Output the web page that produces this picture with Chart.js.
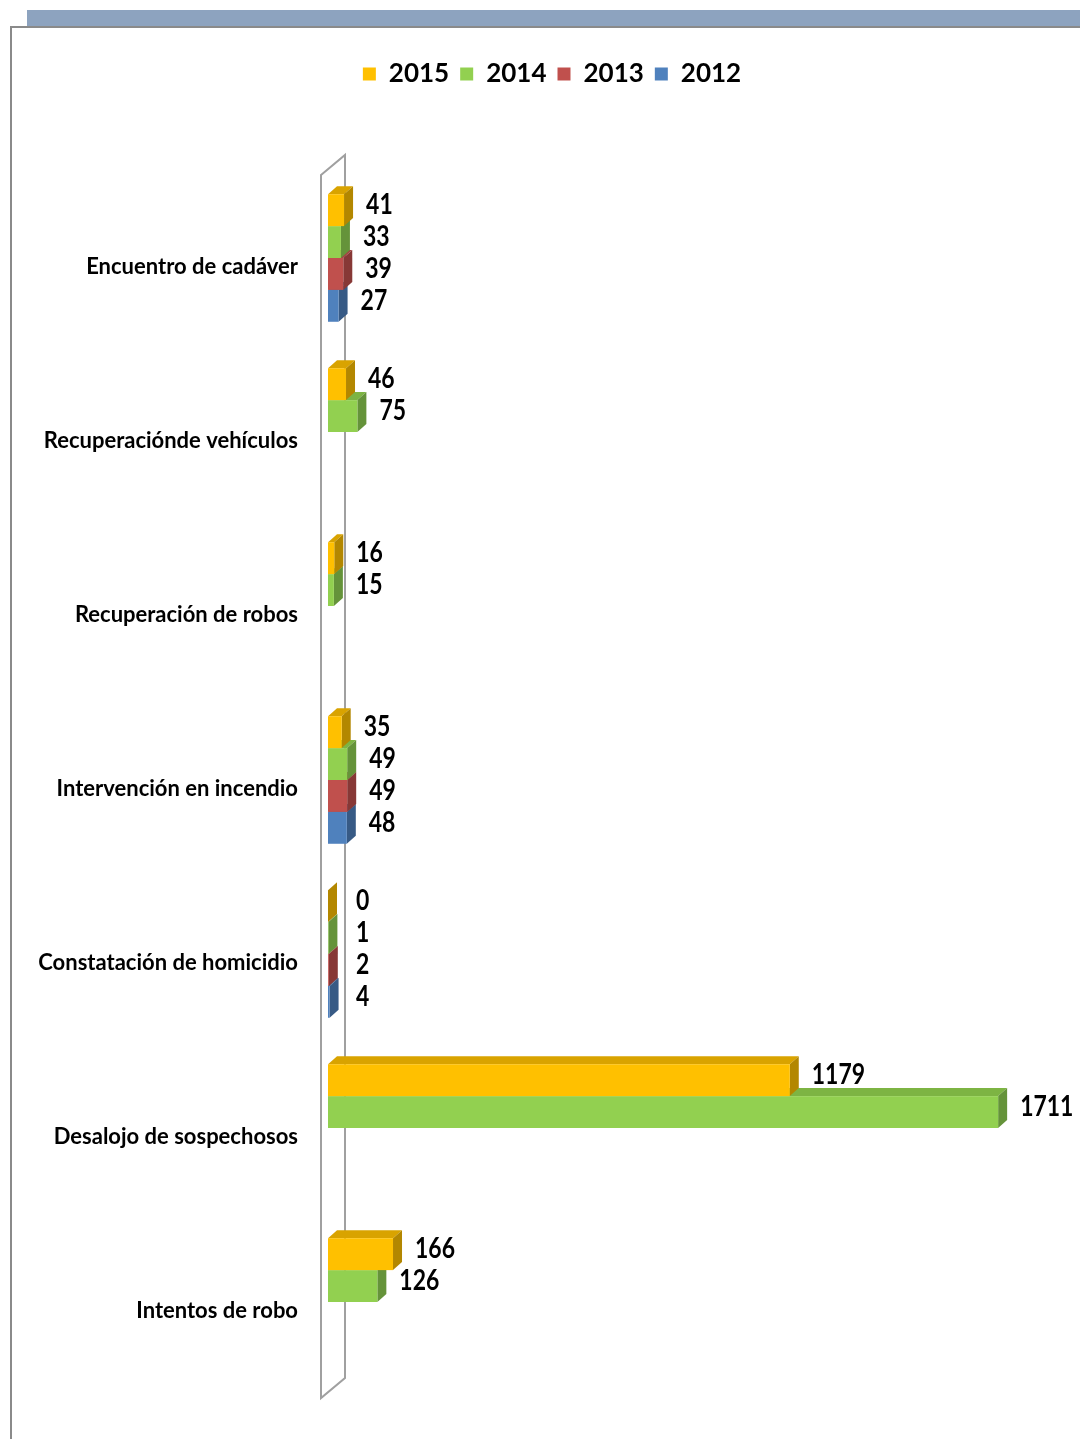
<!DOCTYPE html>
<html>
<head>
<meta charset="utf-8">
<script src="https://cdn.jsdelivr.net/npm/chart.js@4.4.1/dist/chart.umd.min.js"></script>
<style>
  body { margin: 0; background: #fff; }
  #wrap { position: relative; width: 1080px; height: 1439px; overflow: hidden; }
  #band { position: absolute; left: 27px; top: 10px; width: 1053px; height: 17px; background: #8DA3BF; }
  #frame { position: absolute; left: 10px; top: 26px; width: 1100px; height: 1500px;
           border-left: 2px solid #8a8a8a; border-top: 2px solid #8a8a8a; }
  canvas { position: absolute; left: 0; top: 0; }
</style>
</head>
<body>
<div id="wrap">
  <div id="band"></div>
  <div id="frame"></div>
  <canvas id="myChart" width="1080" height="1439"></canvas>
</div>
<script>
var categories = ["Encuentro de cadáver", "Recuperaciónde vehículos", "Recuperación de robos",
  "Intervención en incendio", "Constatación de homicidio", "Desalojo de sospechosos", "Intentos de robo"];
var years = ["2015", "2014", "2013", "2012"];
var v2015 = [41, 46, 16, 35, 0, 1179, 166];
var v2014 = [33, 75, 15, 49, 1, 1711, 126];
var v2013 = [39, null, null, 49, 2, null, null];
var v2012 = [27, null, null, 48, 4, null, null];

var front = ['#FFC000', '#92D050', '#C0504D', '#4F81BD'];
var topc  = ['#D9A300', '#7DB443', '#A54441', '#436EA1'];
var side  = ['#B38700', '#65933A', '#873836', '#375A85'];
var fontName = 'Lato, "Open Sans", sans-serif';
var dx = 9, dy = 8;

// push the plot down below the legend
var legendGap = {
  id: 'legendGap',
  beforeInit: function(chart) {
    var fit = chart.legend.fit;
    chart.legend.fit = function() {
      fit.bind(chart.legend)();
      this.height += 74;
    };
  }
};

var bars3d = {
  id: 'bars3d',
  beforeDatasetsDraw: function(chart) {
    var ctx = chart.ctx, a = chart.chartArea;
    // back wall
    ctx.save();
    ctx.beginPath();
    ctx.moveTo(a.left - 7, a.top + 4);
    ctx.lineTo(a.left + 17, a.top - 16);
    ctx.lineTo(a.left + 17, a.bottom - 11);
    ctx.lineTo(a.left - 7, a.bottom + 9);
    ctx.closePath();
    ctx.fillStyle = '#fff';
    ctx.fill();
    ctx.strokeStyle = '#a0a0a0';
    ctx.lineWidth = 2;
    ctx.stroke();

    for (var d = chart.data.datasets.length - 1; d >= 0; d--) {
      var meta = chart.getDatasetMeta(d);
      var vals = chart.data.datasets[d].data;
      meta.data.forEach(function(el, i) {
        if (vals[i] == null) return;
        var p = el.getProps(['x', 'y', 'base', 'height'], true);
        var t = p.y - p.height / 2, b = p.y + p.height / 2;
        var x0 = Math.min(p.base, p.x), x1 = Math.max(p.base, p.x);
        ctx.fillStyle = topc[d];
        ctx.beginPath();
        ctx.moveTo(x0, t); ctx.lineTo(x0 + dx, t - dy);
        ctx.lineTo(x1 + dx, t - dy); ctx.lineTo(x1, t);
        ctx.closePath(); ctx.fill();
        ctx.fillStyle = side[d];
        ctx.beginPath();
        ctx.moveTo(x1, t); ctx.lineTo(x1 + dx, t - dy);
        ctx.lineTo(x1 + dx, b - dy); ctx.lineTo(x1, b);
        ctx.closePath(); ctx.fill();
        ctx.fillStyle = front[d];
        ctx.fillRect(x0, t, x1 - x0, b - t);
      });
    }
    // value labels (a bit condensed, like the original)
    ctx.fillStyle = '#000';
    ctx.font = 'bold 28px ' + fontName;
    ctx.textAlign = 'left';
    ctx.textBaseline = 'middle';
    chart.data.datasets.forEach(function(ds, d) {
      chart.getDatasetMeta(d).data.forEach(function(el, i) {
        if (ds.data[i] == null) return;
        var p = el.getProps(['x', 'y'], true);
        var lx = Math.max(p.x + dx + 13, a.left + 28);
        ctx.save();
        ctx.translate(lx, p.y - 5);
        ctx.scale(0.82, 1);
        ctx.fillText(String(ds.data[i]), 0, 0);
        ctx.restore();
      });
    });
    ctx.restore();
    return false;
  }
};

var chart = new Chart("myChart", {
  type: "bar",
  data: {
    labels: categories,
    datasets: [
      { label: years[0], data: v2015, backgroundColor: front[0] },
      { label: years[1], data: v2014, backgroundColor: front[1] },
      { label: years[2], data: v2013, backgroundColor: front[2] },
      { label: years[3], data: v2012, backgroundColor: front[3] }
    ]
  },
  options: {
    indexAxis: 'y',
    responsive: false,
    animation: false,
    devicePixelRatio: 1,
    categoryPercentage: 0.733,
    barPercentage: 1,
    layout: { padding: { left: 24, right: 0, top: 50, bottom: 50 } },
    scales: {
      x: { display: false, min: 0, max: 1920 },
      y: {
        grid: { display: false, drawTicks: false },
        border: { display: false },
        ticks: { color: '#000', font: { family: fontName, size: 22, weight: 'bold' }, padding: 30, labelOffset: 9 },
        afterFit: function(scale) { scale.width = 304; }
      }
    },
    plugins: {
      legend: {
        position: 'top',
        labels: {
          color: '#000',
          boxWidth: 13, boxHeight: 13, padding: 11,
          font: { family: fontName, size: 26, weight: 'bold' }
        }
      },
      tooltip: { enabled: false }
    }
  },
  plugins: [legendGap, bars3d]
});
</script>
</body>
</html>
